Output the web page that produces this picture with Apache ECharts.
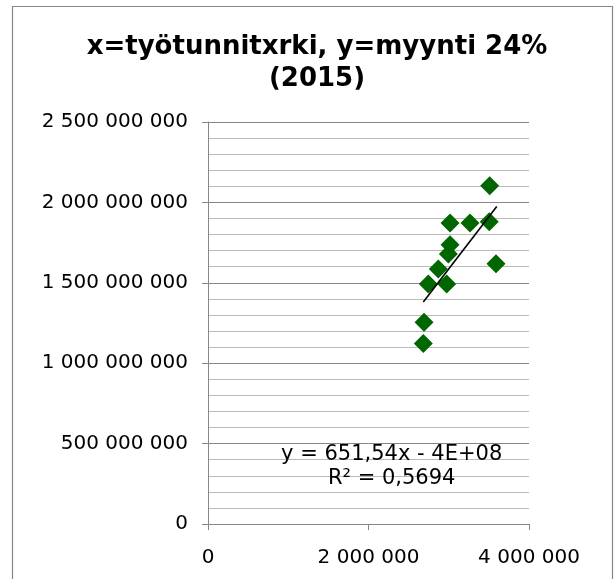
<!DOCTYPE html>
<html>
<head>
<meta charset="utf-8">
<script src="https://cdn.jsdelivr.net/npm/echarts@6/dist/echarts.min.js"></script>
<style>
html,body{margin:0;padding:0;background:#fff;}
#chart{width:616px;height:579px;}
</style>
</head>
<body>
<div id="chart"></div>
<script>
// Data
const titleLines = ['x=työtunnitxrki, y=myynti 24%', '(2015)'];
const xValues = [3510000, 3016000, 3265000, 3505000, 3016000, 2995000, 3589000, 2870000, 2745000, 2974000, 2692000, 2683000];
const yValues = [2103000000, 1872000000, 1872000000, 1880000000, 1737000000, 1679000000, 1619000000, 1586000000, 1493000000, 1493000000, 1255000000, 1123000000];
const trendX = [2683000, 3598000];
const trendY = [1381000000, 1975000000];
const equationText = 'y = 651,54x - 4E+08';
const r2Text = 'R² = 0,5694';
const xTicks = { min: 0, max: 4000000, interval: 2000000 };
const yTicks = { min: 0, max: 2500000000, interval: 500000000 };

const points = xValues.map((x, i) => [x, yValues[i]]);
const trend = trendX.map((x, i) => [x, trendY[i]]);

function fmt(v) {
  return String(Math.round(v)).replace(/\B(?=(\d{3})+(?!\d))/g, ' ');
}

const FONT = 'DejaVu Sans, Verdana, sans-serif';
const chart = echarts.init(document.getElementById('chart'), null, { renderer: 'canvas' });
chart.setOption({
  animation: false,
  backgroundColor: '#ffffff',
  grid: { left: 208, top: 122, right: 87, bottom: 55 },
  xAxis: {
    type: 'value',
    min: xTicks.min, max: xTicks.max, interval: xTicks.interval,
    axisLine: { show: true, onZero: false, lineStyle: { color: '#868686', width: 1 } },
    axisTick: { show: true, inside: false, length: 6, lineStyle: { color: '#868686' } },
    axisLabel: { margin: 24, color: '#000', fontFamily: FONT, fontSize: 20, formatter: fmt, showMaxLabel: true, showMinLabel: true },
    splitLine: { show: false }
  },
  yAxis: {
    type: 'value',
    min: yTicks.min, max: yTicks.max, interval: yTicks.interval,
    axisLine: { show: true, lineStyle: { color: '#868686', width: 1 } },
    axisTick: { show: true, inside: false, length: 6, lineStyle: { color: '#868686' } },
    axisLabel: { margin: 20, color: '#000', fontFamily: FONT, fontSize: 20, formatter: fmt },
    splitLine: { show: true, lineStyle: { color: '#868686', width: 1 } },
    minorTick: { show: false, splitNumber: 5 },
    minorSplitLine: { show: true, lineStyle: { color: '#bababa', width: 1 } }
  },
  series: [
    {
      type: 'scatter',
      data: points,
      symbol: 'diamond',
      symbolSize: 19,
      itemStyle: { color: '#006600', opacity: 1 },
      z: 3
    },
    {
      type: 'line',
      data: trend,
      symbol: 'none',
      lineStyle: { color: '#000000', width: 1.6 },
      z: 4
    }
  ],
  graphic: [
    {
      type: 'rect',
      shape: { x: 12.5, y: 6.5, width: 600, height: 700 },
      style: { fill: 'none', stroke: '#868686', lineWidth: 1.2 },
      silent: true
    },
    {
      type: 'text',
      x: 317, y: 47.5,
      style: { text: titleLines[0], textAlign: 'center', textVerticalAlign: 'middle', font: 'bold 26px ' + FONT, fill: '#000' }
    },
    {
      type: 'text',
      x: 317, y: 79,
      style: { text: titleLines[1], textAlign: 'center', textVerticalAlign: 'middle', font: 'bold 26px ' + FONT, fill: '#000' }
    },
    {
      type: 'text',
      x: 391.7, y: 455, z: 10,
      style: { text: equationText, textAlign: 'center', textVerticalAlign: 'middle', font: '21px ' + FONT, fill: '#000' }
    },
    {
      type: 'text',
      x: 391.7, y: 479, z: 10,
      style: { text: r2Text, textAlign: 'center', textVerticalAlign: 'middle', font: '21px ' + FONT, fill: '#000' }
    }
  ]
});
</script>
</body>
</html>
